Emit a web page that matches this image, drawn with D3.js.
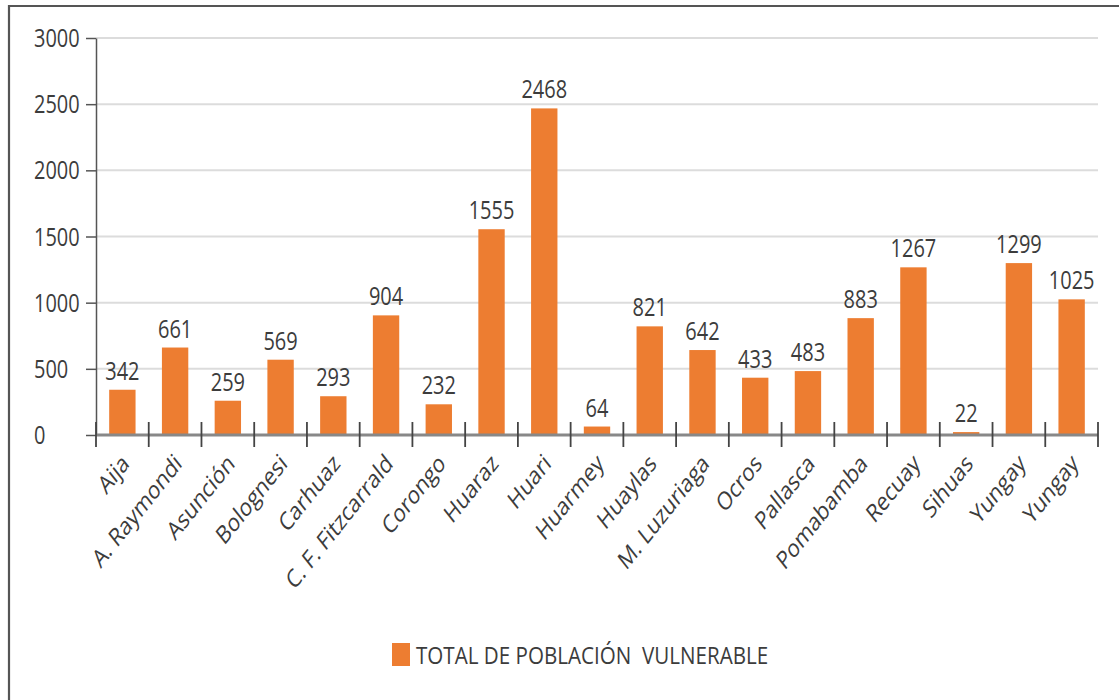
<!DOCTYPE html>
<html><head><meta charset="utf-8">
<script src="https://cdn.jsdelivr.net/npm/d3@7"></script>
<style>
html,body{margin:0;padding:0;background:#fff;}
text{font-family:"Open Sans",sans-serif;fill:#3c3c3c;}
</style></head>
<body><svg id="c" width="1119" height="700"></svg>
<script>
const categories = ["Aija","A. Raymondi","Asunción","Bolognesi","Carhuaz","C. F. Fitzcarrald","Corongo","Huaraz","Huari","Huarmey","Huaylas","M. Luzuriaga","Ocros","Pallasca","Pomabamba","Recuay","Sihuas","Yungay","Yungay"];
const values = [342,661,259,569,293,904,232,1555,2468,64,821,642,433,483,883,1267,22,1299,1025];
const yTicks = [0,500,1000,1500,2000,2500,3000];
const seriesName = "TOTAL DE POBLACIÓN  VULNERABLE";

(function(){
const SY = 1.26;
const svg = d3.select("#c");
const mLeft = 96, mRight = 1098, mTop = 38, mBottom = 435;

// frame (left + top)
svg.append("path").attr("d", `M9,700 L9,6 L1119,6`).attr("fill","none").attr("stroke","#555").attr("stroke-width",2.2);

const x = d3.scaleBand().domain(d3.range(categories.length)).range([mLeft,mRight]).paddingInner(0.5).paddingOuter(0.25);
const y = d3.scaleLinear().domain([0,3000]).range([mBottom,mTop]);

// gridlines
svg.append("g").selectAll("line").data(yTicks.filter(d=>d>0)).join("line")
  .attr("x1",mLeft).attr("x2",mRight).attr("y1",d=>y(d)).attr("y2",d=>y(d))
  .attr("stroke","#dcdcdc").attr("stroke-width",2);

// y axis
const ya = svg.append("g").attr("transform",`translate(${mLeft},0)`)
  .call(d3.axisLeft(y).tickValues(yTicks).tickFormat(d3.format("d")).tickSize(10).tickSizeOuter(0));
ya.select(".domain").attr("stroke","#555").attr("stroke-width",1.5);
ya.selectAll(".tick line").attr("stroke","#555").attr("stroke-width",1.5);
ya.selectAll(".tick text").attr("font-size",20).attr("font-family","Open Sans").attr("fill","#3c3c3c")
  .attr("text-anchor","start").attr("x",34-mLeft)
  .attr("transform",`scale(1,${SY})`).attr("dy","0.34em");

// bars
svg.append("g").selectAll("rect").data(values).join("rect")
  .attr("x",(d,i)=>x(i)).attr("width",x.bandwidth())
  .attr("y",d=>y(d)).attr("height",d=>y(0)-y(d)).attr("fill","#ED7D31");

// value labels
svg.append("g").selectAll("text").data(values).join("text")
  .attr("text-anchor","middle").attr("font-size",20)
  .attr("transform",(d,i)=>`translate(${x(i)+x.bandwidth()/2},${y(d)-10}) scale(1,${SY})`)
  .text(d=>d);

// x axis line
svg.append("line").attr("x1",mLeft).attr("x2",mRight).attr("y1",mBottom).attr("y2",mBottom)
  .attr("stroke","#888").attr("stroke-width",3);
// boundary ticks
const bounds = d3.range(categories.length).map(i=>x(i)-x.step()*x.paddingOuter()).concat([mRight]);
svg.append("g").selectAll("line").data(bounds).join("line")
  .attr("x1",d=>d).attr("x2",d=>d).attr("y1",mBottom-13).attr("y2",mBottom+12)
  .attr("stroke","#444").attr("stroke-width",1.8);

// category labels
svg.append("g").selectAll("text").data(categories).join("text")
  .attr("text-anchor","end").attr("font-size",20)
  .attr("transform",(d,i)=>`translate(${x(i)+x.bandwidth()/2+8},${mBottom+30}) scale(1,${SY}) rotate(-45)`)
  .text(d=>d);

// legend
const lg = svg.append("g");
lg.append("rect").attr("x",392).attr("y",643).attr("width",18).attr("height",23).attr("fill","#ED7D31");
lg.append("text").attr("font-size",20).attr("xml:space","preserve").style("white-space","pre")
  .attr("transform",`translate(416,664) scale(1.03,1.18)`).text(seriesName);
})();
</script></body></html>
